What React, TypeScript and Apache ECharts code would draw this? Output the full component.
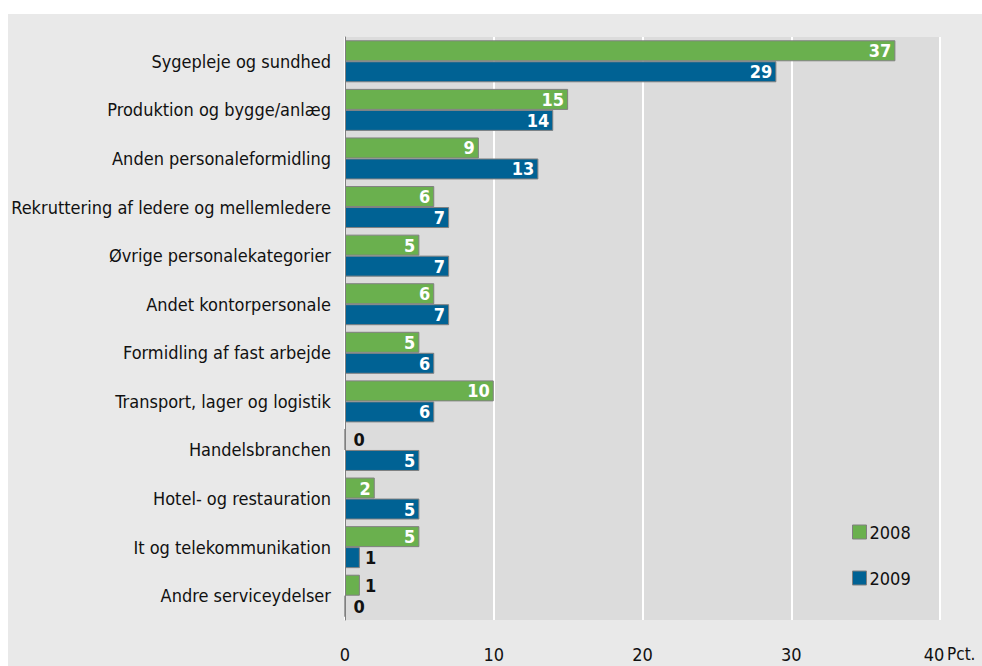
import React, { useEffect, useRef } from "react";
import * as echarts from "echarts";

const categories = [
  "Sygepleje og sundhed",
  "Produktion og bygge/anlæg",
  "Anden personaleformidling",
  "Rekruttering af ledere og mellemledere",
  "Øvrige personalekategorier",
  "Andet kontorpersonale",
  "Formidling af fast arbejde",
  "Transport, lager og logistik",
  "Handelsbranchen",
  "Hotel- og restauration",
  "It og telekommunikation",
  "Andre serviceydelser",
];
const values2008 = [37, 15, 9, 6, 5, 6, 5, 10, 0, 2, 5, 1];
const values2009 = [29, 14, 13, 7, 7, 7, 6, 6, 5, 5, 1, 0];
const seriesNames = ["2008", "2009"];
const xTicks = [0, 10, 20, 30, 40];
const unitLabel = "Pct.";

const FONT = "'DejaVu Sans Condensed', 'Liberation Sans Narrow', 'Open Sans', sans-serif";
const GREEN = "#6ab04e";
const BLUE = "#006294";

function makeData(vals: number[]) {
  return vals.map((v) => ({
    value: v,
    label:
      v >= 2
        ? { show: true, position: "insideRight", color: "#ffffff", distance: 4 }
        : { show: true, position: "right", color: "#111111", distance: v === 0 ? 8 : 5 },
  }));
}

export default function App() {
  const ref = useRef<HTMLDivElement>(null);
  useEffect(() => {
    document.body.style.margin = "0";
    const chart = echarts.init(ref.current!, null, { renderer: "svg" });
    const labelStyle = { fontFamily: FONT, fontSize: 18, fontWeight: "bold" };
    const maxTick = xTicks[xTicks.length - 1];
    chart.setOption({
      animation: false,
      backgroundColor: "#ffffff",
      textStyle: { fontFamily: FONT },
      graphic: [
        {
          type: "rect",
          z: -10,
          shape: { x: 8, y: 14, width: 974, height: 652 },
          style: { fill: "#e9e9e9" },
          silent: true,
        },
        {
          type: "text",
          x: 947,
          y: 654,
          style: {
            text: unitLabel,
            fontFamily: FONT,
            fontSize: 17,
            fill: "#111111",
            verticalAlign: "middle",
            align: "left",
          },
        },
      ],
      grid: {
        left: 345,
        right: 42,
        top: 37,
        bottom: 46,
        show: true,
        backgroundColor: "#dcdcdc",
        borderWidth: 0,
        containLabel: false,
      },
      legend: {
        orient: "vertical",
        left: 847,
        top: 518,
        itemWidth: 14,
        itemHeight: 14,
        itemGap: 28,
        icon: "rect",
        data: seriesNames,
        textStyle: { fontFamily: FONT, fontSize: 18, color: "#111111", padding: [0, 0, 0, -2] },
        itemStyle: { borderColor: "#808080", borderWidth: 1 },
      },
      xAxis: {
        type: "value",
        min: xTicks[0],
        max: maxTick,
        interval: 10,
        axisLine: { show: false },
        axisTick: { show: false },
        splitLine: { show: true, lineStyle: { color: "#ffffff", width: 2 } },
        axisLabel: {
          fontFamily: FONT,
          fontSize: 18,
          color: "#111111",
          margin: 25,
          showMinLabel: true,
          showMaxLabel: true,
          formatter: (v: number) => (v === maxTick ? `{m|${v}}` : `${v}`),
          rich: {
            m: { fontFamily: FONT, fontSize: 18, color: "#111111", padding: [0, 12, 0, 0] },
          },
        },
      },
      yAxis: {
        type: "category",
        data: categories,
        inverse: true,
        axisLine: { show: true, lineStyle: { color: "#808080", width: 1 } },
        axisTick: { show: false },
        axisLabel: {
          fontFamily: FONT,
          fontSize: 18,
          color: "#111111",
          margin: 14,
        },
      },
      series: [
        {
          name: seriesNames[0],
          type: "bar",
          data: makeData(values2008),
          barWidth: 21,
          barGap: "0%",
          itemStyle: { color: GREEN, borderColor: "#808080", borderWidth: 1 },
          label: labelStyle,
        },
        {
          name: seriesNames[1],
          type: "bar",
          data: makeData(values2009),
          barWidth: 21,
          barGap: "0%",
          itemStyle: { color: BLUE, borderColor: "#808080", borderWidth: 1 },
          label: labelStyle,
        },
      ],
    });
    return () => chart.dispose();
  }, []);
  return <div ref={ref} style={{ width: 982, height: 666 }} />;
}
